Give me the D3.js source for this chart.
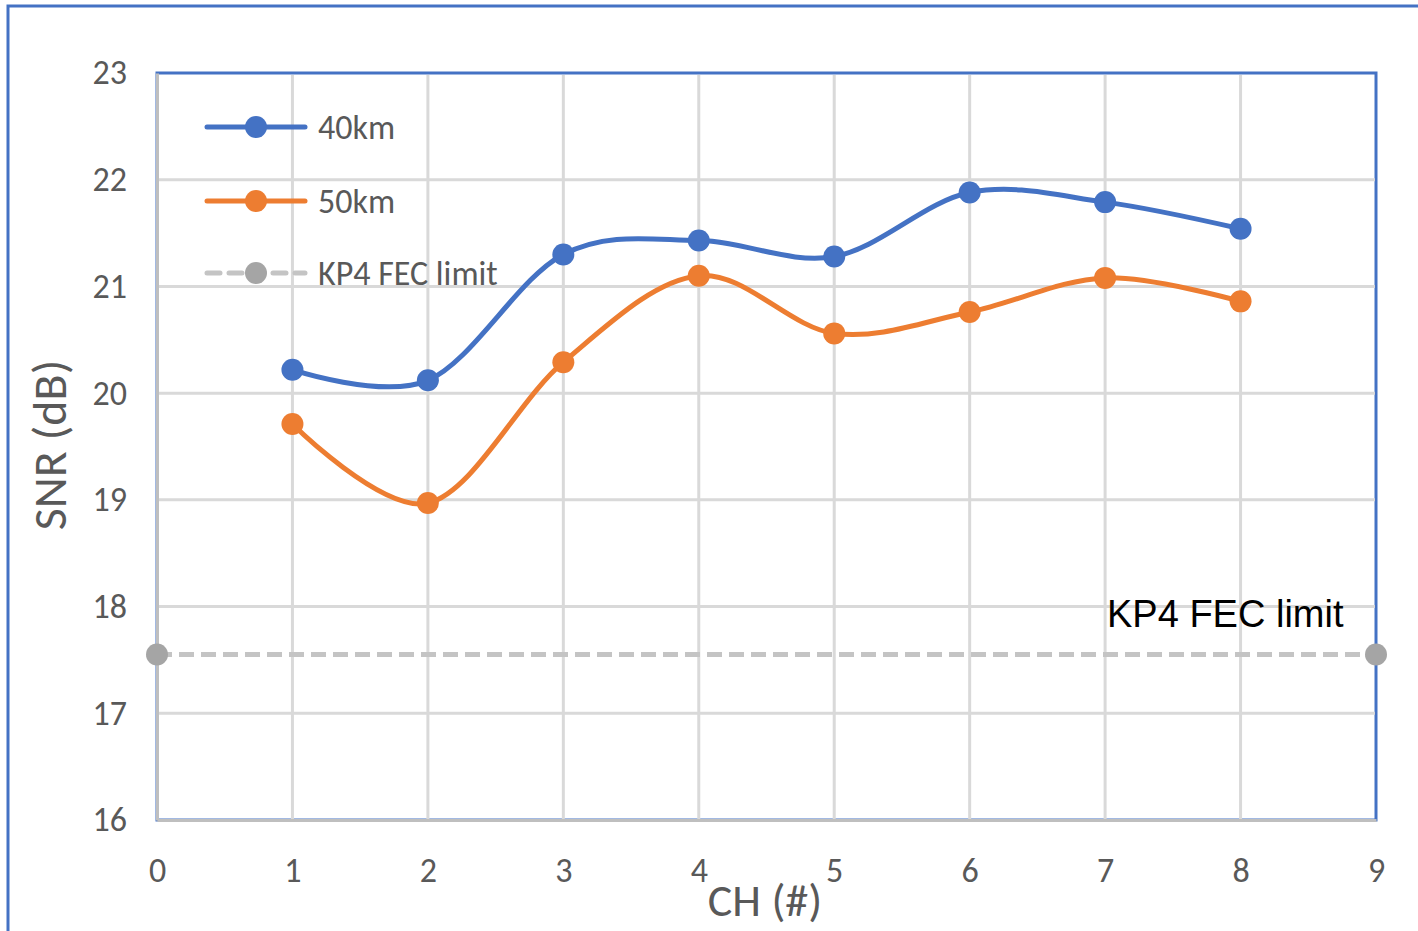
<!DOCTYPE html>
<html><head><meta charset="utf-8">
<script src="https://cdn.jsdelivr.net/npm/d3@7"></script>
<style>html,body{margin:0;padding:0;background:#fff;overflow:hidden}</style>
</head><body>
<svg id="c" width="1418" height="931"></svg>
<script>
const channels = [1,2,3,4,5,6,7,8];
const snr40 = [20.22,20.12,21.30,21.43,21.28,21.88,21.79,21.54];
const snr50 = [19.71,18.97,20.29,21.10,20.56,20.76,21.08,20.86];
const kp4X = [0,9];
const kp4Y = [17.55,17.55];
const xTicks = [0,1,2,3,4,5,6,7,8,9];
const yTicks = [16,17,18,19,20,21,22,23];
const seriesNames = ["40km","50km","KP4 FEC limit"];

const svg = d3.select("#c");
const x = d3.scaleLinear().domain([0,9]).range([157,1376]);
const y = d3.scaleLinear().domain([16,23]).range([820,73]);
const font = "Calibri, 'Open Sans', sans-serif";
const grey = "#595959";

// outer chart border
svg.append("rect").attr("x",8).attr("y",6).attr("width",1430).attr("height",960)
  .attr("fill","none").attr("stroke","#4472C4").attr("stroke-width",3);

// plot area border
svg.append("rect").attr("x",x(0)).attr("y",y(23)).attr("width",x(9)-x(0)).attr("height",y(16)-y(23))
  .attr("fill","none").attr("stroke","#4472C4").attr("stroke-width",3);

// gridlines
svg.append("g").selectAll("line").data(yTicks.filter(d=>d>16&&d<23)).join("line")
  .attr("x1",x(0)).attr("x2",x(9)-1).attr("y1",d=>y(d)).attr("y2",d=>y(d))
  .attr("stroke","#d9d9d9").attr("stroke-width",3);
svg.append("g").selectAll("line").data(xTicks.filter(d=>d>0&&d<9)).join("line")
  .attr("y1",y(23)+2).attr("y2",y(16)).attr("x1",d=>x(d)).attr("x2",d=>x(d))
  .attr("stroke","#d9d9d9").attr("stroke-width",3);

// axes
const xAxis = d3.axisBottom(x).tickValues(xTicks).tickFormat(d3.format("d")).tickSize(0);
const gx = svg.append("g").attr("transform",`translate(0,${y(16)})`).call(xAxis);
gx.select(".domain").attr("stroke","#bfbfbf").attr("stroke-width",3);
gx.selectAll("text").attr("font-family",font).attr("font-size",34).attr("fill",grey).attr("dy","0.35em").attr("y",50);

const yAxis = d3.axisLeft(y).tickValues(yTicks).tickFormat(d3.format("d")).tickSize(0).tickPadding(30);
const gy = svg.append("g").attr("transform",`translate(${x(0)},0)`).call(yAxis);
gy.select(".domain").attr("stroke","#bfbfbf").attr("stroke-width",3);
gy.selectAll("text").attr("font-family",font).attr("font-size",34).attr("fill",grey);

// axis titles
svg.append("text").attr("x",765).attr("y",916).attr("text-anchor","middle")
  .attr("font-family",font).attr("font-size",46).attr("fill",grey).text("CH (#)");
svg.append("text").attr("transform","translate(66,445) rotate(-90)").attr("text-anchor","middle")
  .attr("font-family",font).attr("font-size",48).attr("fill",grey).text("SNR (dB)");

// KP4 line
const kp = kp4X.map((d,i)=>[d,kp4Y[i]]);
svg.append("path").datum(kp).attr("d",d3.line().x(d=>x(d[0])).y(d=>y(d[1])))
  .attr("fill","none").attr("stroke","#c4c4c4").attr("stroke-width",5).attr("stroke-dasharray","15,7");
svg.append("g").selectAll("circle").data(kp).join("circle")
  .attr("cx",d=>x(d[0])).attr("cy",d=>y(d[1])).attr("r",11).attr("fill","#a5a5a5");

// series
const line = d3.line().x(d=>x(d[0])).y(d=>y(d[1])).curve(d3.curveCardinal.tension(0));
[[snr40,"#4472C4"],[snr50,"#ED7D31"]].forEach(([vals,col])=>{
  const pts = channels.map((c,i)=>[c,vals[i]]);
  svg.append("path").datum(pts).attr("d",line).attr("fill","none").attr("stroke",col).attr("stroke-width",5);
  svg.append("g").selectAll("circle").data(pts).join("circle")
    .attr("cx",d=>x(d[0])).attr("cy",d=>y(d[1])).attr("r",11).attr("fill",col);
});

// annotation
svg.append("text").attr("x",1107).attr("y",627).attr("font-family","'Liberation Sans', Arial, sans-serif")
  .attr("font-size",38).attr("fill","#000").text("KP4 FEC limit");

// legend
const legCols = ["#4472C4","#ED7D31","#a5a5a5"];
const legY = [127,201,273];
seriesNames.forEach((n,i)=>{
  const g = svg.append("g");
  g.append("line").attr("x1",207).attr("x2",305).attr("y1",legY[i]).attr("y2",legY[i])
    .attr("stroke", i===2 ? "#c4c4c4" : legCols[i]).attr("stroke-width",5)
    .attr("stroke-linecap","round")
    .attr("stroke-dasharray", i===2 ? "13,9" : null);
  g.append("circle").attr("cx",256).attr("cy",legY[i]).attr("r",11).attr("fill",legCols[i]);
  g.append("text").attr("x",318).attr("y",legY[i]).attr("dy","0.35em")
    .attr("font-family",font).attr("font-size",34).attr("fill",grey).text(n);
});
</script>
</body></html>
